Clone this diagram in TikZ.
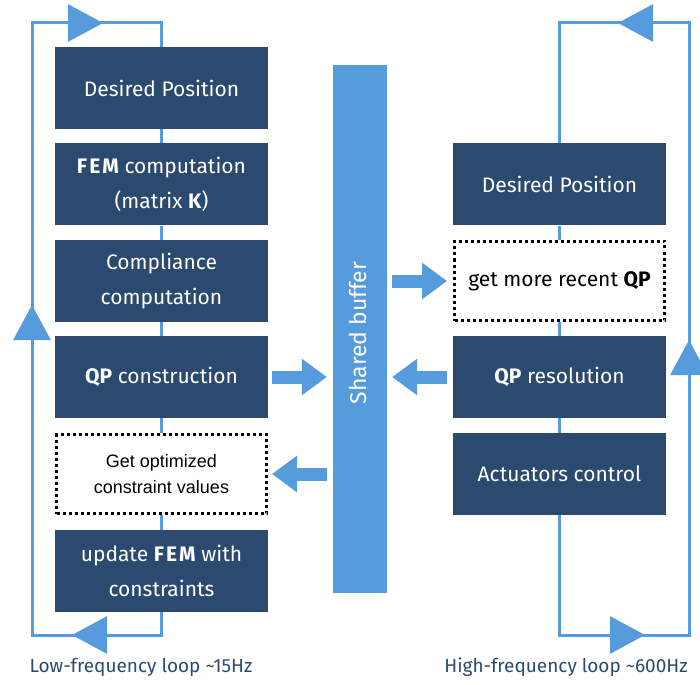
\documentclass[tikz,border=0pt]{standalone}
\usepackage{fontspec}
\setmainfont{Fira Sans}
\newfontfamily\arialfont{Liberation Sans}
\newfontfamily\widebold[LetterSpace=10]{Fira Sans Bold}
\usetikzlibrary{arrows.meta}
\definecolor{navy}{HTML}{2C4A6F}
\definecolor{sky}{HTML}{569BDB}
\newcommand{\fem}{{\widebold FEM}}

\tikzset{
  block/.style={fill=navy, draw=none, text=white, minimum width=213pt, minimum height=82pt,
    inner sep=0pt, align=center, font=\fontsize{21}{35}\selectfont},
  waitbox/.style={fill=white, draw=black, line width=3pt, dash pattern=on 3pt off 3pt,
    minimum width=210pt, minimum height=79pt, inner sep=0pt, align=center},
  buffer/.style={fill=sky, draw=none, minimum width=54pt, minimum height=528pt, inner sep=0pt},
  link/.style={draw=sky, line width=3pt},
  loophead/.style={draw=sky, line width=3pt, -{Triangle[length=35pt,width=37pt]}},
  bigarrow/.style={draw=sky, line width=13pt, -{Triangle[length=25pt,width=35pt]}},
  looplabel/.style={text=navy, anchor=base, font=\fontsize{19}{24}\selectfont}
}

\begin{document}
\begin{tikzpicture}[x=1pt,y=-1pt]
\useasboundingbox (0,0) rectangle (700,684);

% shared buffer in the middle
\node[buffer] (buf) at (360,329) {};
\node[text=white, rotate=90, font=\fontsize{23}{28}\selectfont] (buftxt) at (358,333) {Shared buffer};

% low-frequency chain
\node[block] (dp1) at (161.5,88) {Desired Position};
\node[block] (fem) at (161.5,184.5) {\fem{} computation\\(matrix \textbf{K})};
\node[block] (comp) at (161.5,281) {Compliance\\computation};
\node[block] (qpc) at (161.5,377) {\textbf{QP} construction};
\node[waitbox, font=\arialfont\fontsize{18}{26}\selectfont] (getopt) at (161.5,474) {Get optimized\\constraint values};
\node[block] (upd) at (161.5,571) {update \fem{} with\\constraints};

% high-frequency chain
\node[block] (rdp) at (559.5,184.5) {Desired Position};
\node[waitbox, font=\fontsize{21}{26}\selectfont] (rdot) at (559.5,281) {get more recent \textbf{QP}};
\node[block] (qpr) at (559.5,377) {\textbf{QP} resolution};
\node[block] (act) at (559.5,474) {Actuators control};

% links inside each chain
\foreach \a/\b in {dp1/fem, fem/comp, comp/qpc, qpc/getopt, getopt/upd, rdp/rdot, rdot/qpr, qpr/act}
  \draw[link] (\a.south) -- (\b.north);

% loop corners
\coordinate (Lbot) at (32,635);
\coordinate (Ltop) at (32,23);
\coordinate (Rbot) at (689,635);
\coordinate (Rtop) at (689,23);

% low-frequency loop
\draw[link] (upd.south) -- (upd.south |- Lbot) -- (Lbot) -- (Ltop) -- (Ltop -| dp1.north) -- (dp1.north);
\coordinate (la1) at (68,23);   \coordinate (la2) at (103,23);
\coordinate (lb1) at (32,340);  \coordinate (lb2) at (32,305);
\coordinate (lc1) at (107,635); \coordinate (lc2) at (72,635);
\draw[loophead] (la1) -- (la2);
\draw[loophead] (lb1) -- (lb2);
\draw[loophead] (lc1) -- (lc2);

% high-frequency loop
\draw[link] (act.south) -- (act.south |- Rbot) -- (Rbot) -- (Rtop) -- (Rtop -| rdp.north) -- (rdp.north);
\coordinate (ra1) at (653,23);  \coordinate (ra2) at (618,23);
\coordinate (rb1) at (689,375); \coordinate (rb2) at (689,340);
\coordinate (rc1) at (610,635); \coordinate (rc2) at (645,635);
\draw[loophead] (ra1) -- (ra2);
\draw[loophead] (rb1) -- (rb2);
\draw[loophead] (rc1) -- (rc2);

% exchanges with the shared buffer
\draw[bigarrow] ([xshift=4pt]qpc.east) -- ([xshift=-6pt]buf.west |- qpc.east);
\draw[bigarrow] ([xshift=-6pt]buf.west |- getopt.east) -- ([xshift=4pt]getopt.east);
\draw[bigarrow] ([xshift=5pt]buf.east |- rdot.west) -- ([xshift=-6pt]rdot.west);
\draw[bigarrow] ([xshift=-6pt]qpr.west) -- ([xshift=5pt]buf.east |- qpr.west);

% loop rates
\node[looplabel] (lowlbl) at (141,672) {Low-frequency loop \textasciitilde15Hz};
\node[looplabel] (highlbl) at (566,672) {High-frequency loop \textasciitilde600Hz};
\end{tikzpicture}
\end{document}
